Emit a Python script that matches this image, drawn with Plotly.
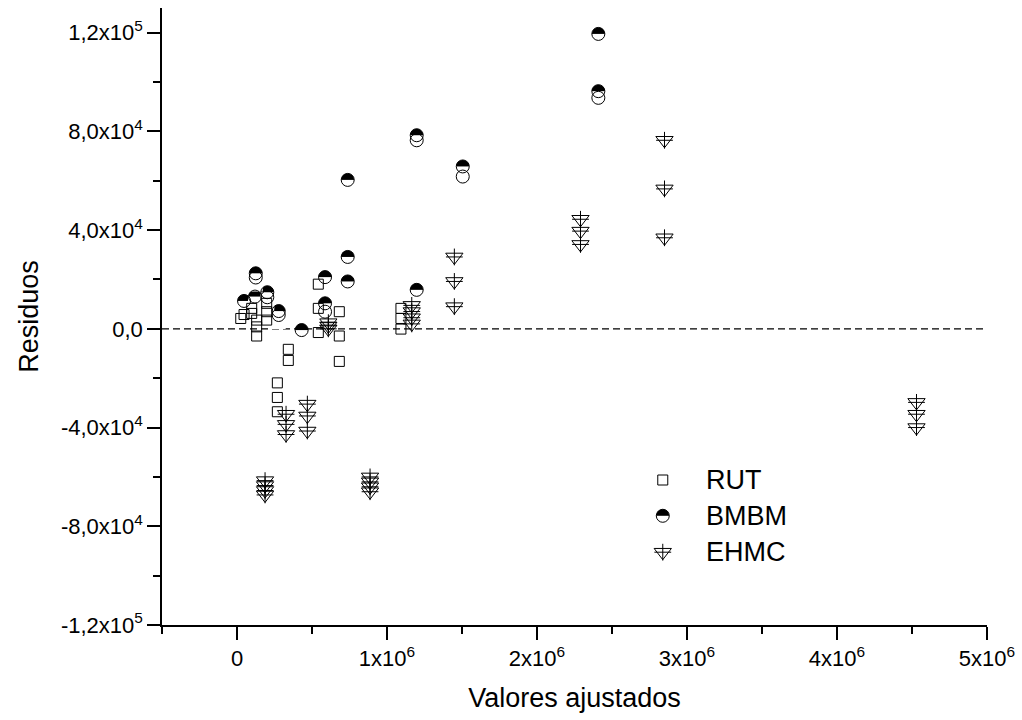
import plotly.graph_objects as go

# ---------------- data (x in units of 1e6, y residuals) ----------------
rut_x = [0.025, 0.047, 0.098, 0.098, 0.131, 0.131, 0.131, 0.198, 0.198, 0.198,
         0.269, 0.269, 0.269, 0.342, 0.342, 0.542, 0.542, 0.542,
         0.682, 0.682, 0.682, 1.093, 1.093, 1.093]
rut_y = [4200, 5800, 6250, 8300, 3550, 800, -2900, 10340, 6950, 3550,
         -21900, -27800, -33600, -8300, -12800, 18100, 8300, -1500,
         6950, -2900, -13200, 8300, 4200, -100]

bmbm_x = [0.047, 0.125, 0.125, 0.120, 0.202, 0.202, 0.278, 0.278, 0.431,
          0.587, 0.587, 0.587, 0.738, 0.738, 0.738, 1.198, 1.198, 1.198,
          1.505, 1.505, 2.409, 2.409, 2.409]
bmbm_y = [11300, 22500, 20800, 13070, 14830, 12800, 7200, 5600, -500,
          20960, 10340, 6950, 60350, 29130, 19200, 78450, 76400, 15800,
          65800, 61700, 119500, 96300, 93600]

ehmc_x = [0.187, 0.187, 0.187, 0.187, 0.327, 0.327, 0.327, 0.469, 0.469, 0.469,
          0.609, 0.609, 0.609, 0.887, 0.887, 0.887, 0.887,
          1.165, 1.165, 1.165, 1.165, 1.449, 1.449, 1.449,
          2.29, 2.29, 2.29, 2.85, 2.85, 2.85, 4.53, 4.53, 4.53]
ehmc_y = [-61500, -63500, -65500, -67300, -34600, -38700, -42800, -30500, -35300, -41400,
          2500, 1200, 0, -60000, -62000, -64000, -66000,
          9500, 7000, 4500, 2000, 29130, 19200, 8990,
          44400, 39600, 34200, 76400, 56700, 36900, -29800, -34600, -40000]

x_tickvals = [0, 1e6, 2e6, 3e6, 4e6, 5e6]
x_ticktext = ["0", "1x10<sup>6</sup>", "2x10<sup>6</sup>", "3x10<sup>6</sup>",
              "4x10<sup>6</sup>", "5x10<sup>6</sup>"]
y_tickvals = [-120000, -80000, -40000, 0, 40000, 80000, 120000]
y_ticktext = ["-1,2x10<sup>5</sup>", "-8,0x10<sup>4</sup>", "-4,0x10<sup>4</sup>", "0,0",
              "4,0x10<sup>4</sup>", "8,0x10<sup>4</sup>", "1,2x10<sup>5</sup>"]

series_names = ["RUT", "BMBM", "EHMC"]

def scale(xs):
    return [v * 1e6 for v in xs]

fig = go.Figure()

# BMBM: half-filled circles (black top, white bottom) built in three layers
BM = 13
fig.add_trace(go.Scatter(x=scale(bmbm_x), y=bmbm_y, mode="markers", name="BMBM",
                         marker=dict(symbol="circle", size=BM, color="black",
                                     line=dict(width=0)),
                         showlegend=False))
fig.add_trace(go.Scatter(x=scale(bmbm_x), y=bmbm_y, mode="markers", name="BMBM",
                         marker=dict(symbol="square", size=BM + 1, color="white",
                                     angle=0, standoff=(BM + 1) / 2,
                                     line=dict(width=0)),
                         showlegend=False))
fig.add_trace(go.Scatter(x=scale(bmbm_x), y=bmbm_y, mode="markers", name="BMBM",
                         marker=dict(symbol="circle-open", size=BM, color="black",
                                     line=dict(width=1, color="black")),
                         showlegend=False))

# RUT: open squares
fig.add_trace(go.Scatter(x=scale(rut_x), y=rut_y, mode="markers", name="RUT",
                         marker=dict(symbol="square-open", size=10, color="black",
                                     line=dict(width=1, color="black")),
                         showlegend=False))

# EHMC: down triangle with a cross
fig.add_trace(go.Scatter(x=scale(ehmc_x), y=ehmc_y, mode="markers", name="EHMC",
                         marker=dict(symbol="triangle-down-open", size=15, color="black",
                                     line=dict(width=1, color="black")),
                         showlegend=False))
fig.add_trace(go.Scatter(x=scale(ehmc_x), y=ehmc_y, mode="markers", name="EHMC",
                         marker=dict(symbol="cross-thin-open", size=12, color="black",
                                     line=dict(width=1, color="black")),
                         showlegend=False))

# zero reference line
fig.add_shape(type="line", xref="paper", x0=0, x1=1, yref="y", y0=0, y1=0,
              line=dict(color="black", width=1.3, dash="7px,4px"), layer="below")

# ---------------- manual legend (keys drawn as pixel-sized shapes) ----------------
leg_x = 0.607
leg_y = [0.235, 0.177, 0.118]
blk = dict(color="black", width=1)

def key_shape(yy, **kw):
    base = dict(xref="paper", yref="paper", xsizemode="pixel", ysizemode="pixel",
                xanchor=leg_x, yanchor=yy, layer="above")
    base.update(kw)
    fig.add_shape(**base)

# RUT key: open square
key_shape(leg_y[0], type="rect", x0=-5, x1=5, y0=-5, y1=5, line=blk)
# BMBM key: half-filled circle
key_shape(leg_y[1], type="circle", x0=-6.5, x1=6.5, y0=-6.5, y1=6.5,
          fillcolor="black", line=dict(width=0))
key_shape(leg_y[1], type="rect", x0=-7, x1=7, y0=-7.5, y1=0,
          fillcolor="white", line=dict(width=0))
key_shape(leg_y[1], type="circle", x0=-6.5, x1=6.5, y0=-6.5, y1=6.5, line=blk)
# EHMC key: down triangle with a cross
key_shape(leg_y[2], type="path", path="M-8.66,3.75 L8.66,3.75 L0,-7.5 Z", line=blk)
key_shape(leg_y[2], type="line", x0=-8.4, x1=8.4, y0=0, y1=0, line=blk)
key_shape(leg_y[2], type="line", x0=0, x1=0, y0=-8.4, y1=8.4, line=blk)

for name, yy in zip(series_names, leg_y):
    fig.add_annotation(xref="paper", yref="paper", x=0.657, y=yy, text=name,
                       showarrow=False, xanchor="left", yanchor="middle",
                       font=dict(family="Liberation Sans", size=27, color="black"))

fig.update_layout(
    width=1022, height=720,
    margin=dict(l=162, r=35, t=8, b=95),
    paper_bgcolor="white", plot_bgcolor="white",
    font=dict(family="Liberation Sans, Arial", color="black", size=22),
    showlegend=False,
)
fig.update_xaxes(range=[-0.5e6, 5e6], tickmode="array", tickvals=x_tickvals,
                 ticktext=x_ticktext, ticks="outside", ticklen=13, tickwidth=1.5,
                 tickcolor="black", showline=True, linecolor="black", linewidth=1.5,
                 showgrid=False, zeroline=False, mirror=False,
                 tickfont=dict(size=22),
                 minor=dict(ticks="outside", ticklen=7, tickwidth=1.5, tickcolor="black",
                            tick0=0, dtick=0.5e6, showgrid=False),
                 title=dict(text="Valores ajustados", font=dict(size=27), standoff=18))
fig.update_yaxes(range=[-1.2e5, 1.3e5], tickmode="array", tickvals=y_tickvals,
                 ticktext=y_ticktext, ticks="outside", ticklen=13, tickwidth=1.5,
                 tickcolor="black", showline=True, linecolor="black", linewidth=1.5,
                 showgrid=False, zeroline=False, mirror=False,
                 tickfont=dict(size=22),
                 minor=dict(ticks="outside", ticklen=7, tickwidth=1.5, tickcolor="black",
                            tick0=0, dtick=2e4, showgrid=False),
                 title=dict(text="Residuos", font=dict(size=27), standoff=14))

fig.write_html("out.html")
